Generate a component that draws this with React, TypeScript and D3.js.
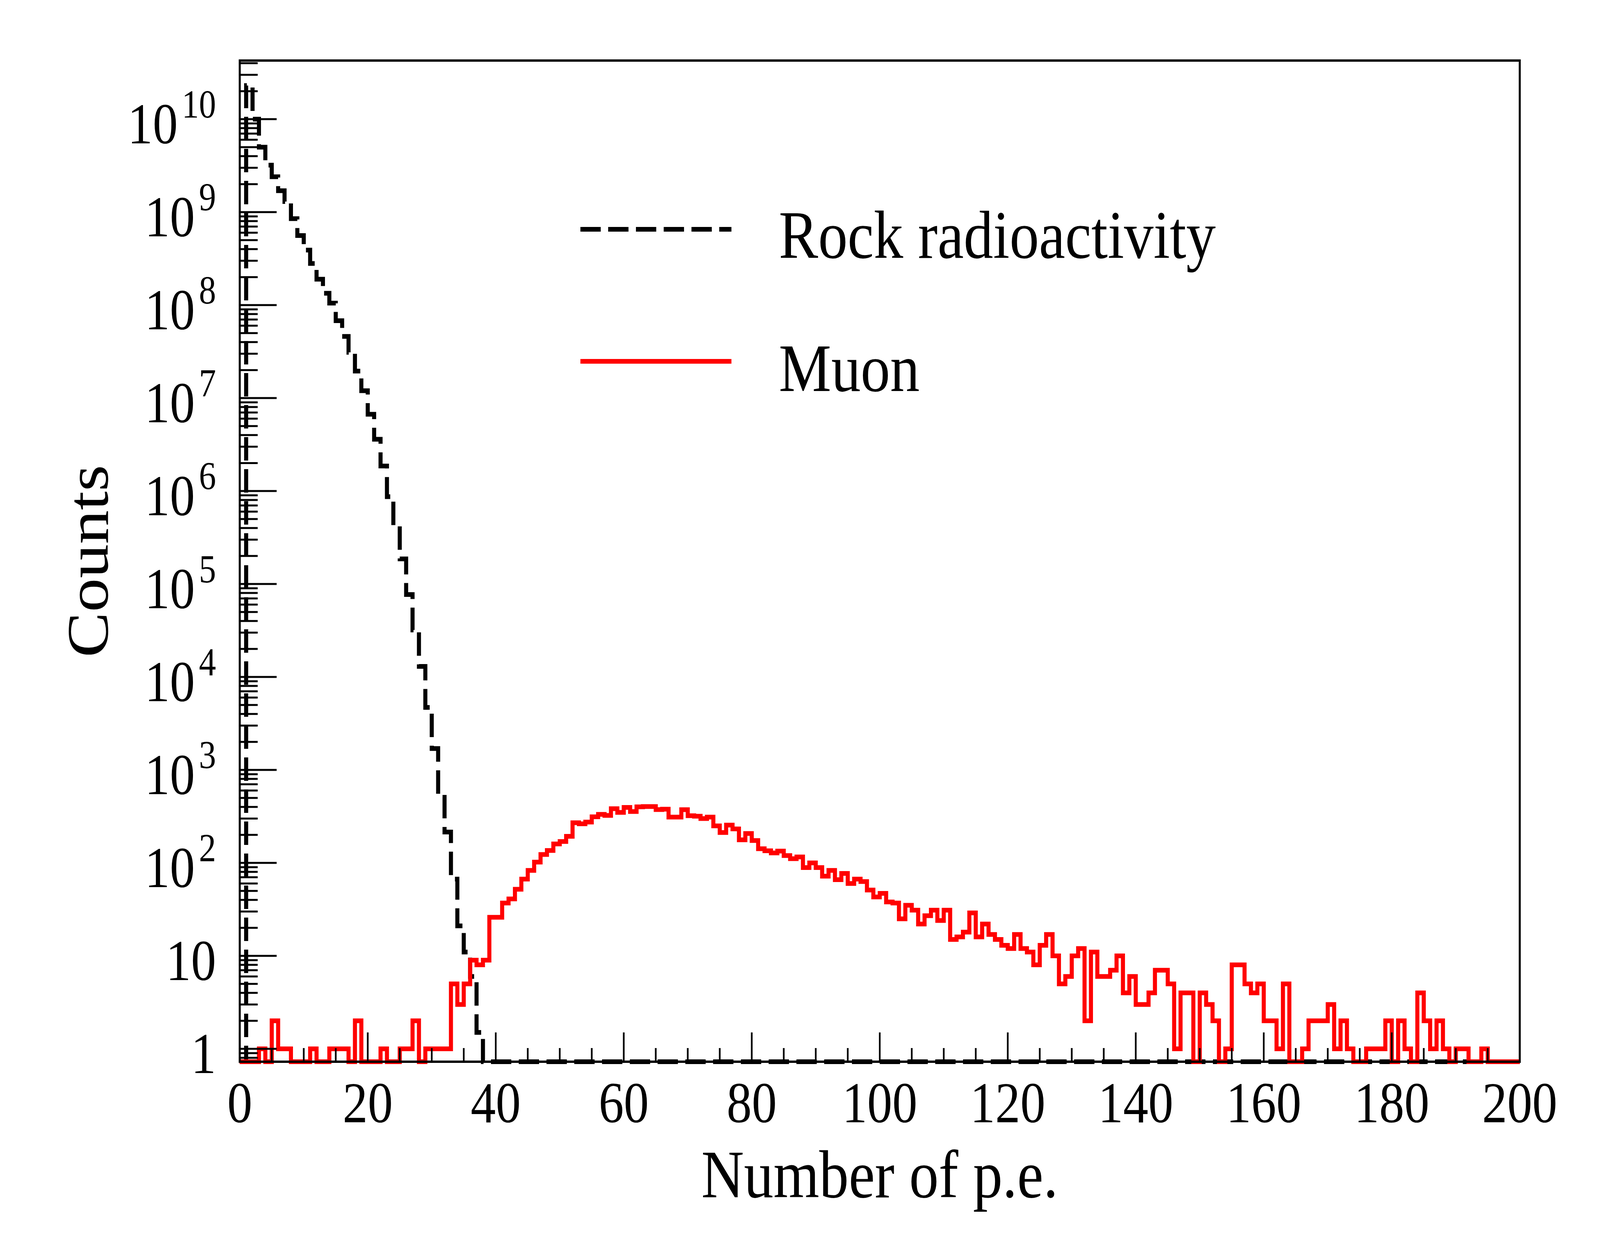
import { useEffect, useRef } from "react";
import * as d3 from "d3";

// Histogram contents, one value per 1 p.e. bin from 0 to 200
const rockCounts = [
  0, 2.3e10, 1.0e10, 5.0e9, 3.2e9, 2.4e9, 1.7e9, 1.3e9, 8.5e8, 5.6e8,
  3.9e8, 2.8e8, 1.9e8, 1.34e8, 1.05e8, 6.8e7, 4.6e7, 3.1e7, 1.95e7, 1.2e7,
  6.7e6, 3.6e6, 1.86e6, 8.7e5, 4.2e5, 1.86e5, 7.7e4, 3.2e4, 1.3e4, 4.7e3,
  1.7e3, 508, 215, 67, 21, 11, 6, 1.5, 0, 0,
  0, 0, 0, 0, 0, 0, 0, 0, 0, 0, 0, 0, 0, 0, 0, 0, 0, 0, 0, 0,
  0, 0, 0, 0, 0, 0, 0, 0, 0, 0, 0, 0, 0, 0, 0, 0, 0, 0, 0, 0,
  0, 0, 0, 0, 0, 0, 0, 0, 0, 0, 0, 0, 0, 0, 0, 0, 0, 0, 0, 0,
  0, 0, 0, 0, 0, 0, 0, 0, 0, 0, 0, 0, 0, 0, 0, 0, 0, 0, 0, 0,
  0, 0, 0, 0, 0, 0, 0, 0, 0, 0, 0, 0, 0, 0, 0, 0, 0, 0, 0, 0,
  0, 0, 0, 0, 0, 0, 0, 0, 0, 0, 0, 0, 0, 0, 0, 0, 0, 0, 0, 0,
  0, 0, 0, 0, 0, 0, 0, 0, 0, 0, 0, 0, 0, 0, 0, 0, 0, 0, 0, 0,
  0, 0, 0, 0, 0, 0, 0, 0, 0, 0, 0, 0, 0, 0, 0, 0, 0, 0, 0, 0,
];

const muonCounts = [
  0, 0, 0, 1, 0, 2, 1, 1, 0, 0, 0, 1, 0, 0, 1, 1, 1, 0, 2, 0,
  0, 0, 1, 0, 0, 1, 1, 2, 0, 1, 1, 1, 1, 5, 3, 5, 9, 8, 9, 26,
  26, 37, 41, 52, 67, 83, 102, 123, 136, 160, 170, 193, 270, 263, 275, 313, 333, 324, 383, 349,
  395, 357, 401, 404, 404, 375, 378, 311, 311, 374, 322, 318, 300, 311, 250, 212, 255, 232, 177, 207,
  174, 142, 135, 128, 134, 120, 111, 116, 89, 100, 89, 72, 83, 66, 77, 60, 67, 63, 51, 43,
  47, 38, 37, 25, 35, 31, 22, 27, 31, 24, 31, 15, 16, 18, 29, 16, 22, 17, 15, 13,
  12, 17, 12, 11, 8, 13, 17, 10, 5, 6, 10, 12, 2, 11, 6, 6, 7, 10, 4, 6,
  3, 3, 4, 7, 7, 5, 1, 4, 4, 0, 4, 3, 2, 0, 1, 8, 8, 5, 4, 5,
  2, 2, 1, 5, 0, 0, 1, 2, 2, 2, 3, 1, 2, 1, 0, 0, 1, 1, 1, 2,
  0, 2, 1, 0, 4, 2, 1, 2, 1, 0, 1, 1, 0, 0, 1, 0, 0, 0, 0, 0,
];

const xMajorTicks = [0, 20, 40, 60, 80, 100, 120, 140, 160, 180, 200];
const yDecades = [0, 1, 2, 3, 4, 5, 6, 7, 8, 9, 10];
const legendLabels = ["Rock radioactivity", "Muon"];
const xTitle = "Number of p.e.";
const yTitle = "Counts";

const FONT = "'Liberation Serif', 'Times New Roman', serif";

export default function App() {
  const svgRef = useRef<SVGSVGElement>(null);

  useEffect(() => {
    if (!svgRef.current) return;
    const svg = d3.select(svgRef.current);
    svg.selectAll("*").remove();

    const width = 4725;
    const height = 3200;
    const frame = { left: 708, right: 4488, top: 155, bottom: 2718 };

    // fill whatever viewport the page gets with the full 4725x3200 drawing
    svg
      .attr("viewBox", `0 0 ${width} ${height}`)
      .attr("preserveAspectRatio", "none");
    svg.append("rect").attr("width", width).attr("height", height).attr("fill", "white");

    const nBins = muonCounts.length;
    const x = d3.scaleLinear().domain([0, nBins]).range([frame.left, frame.right]);
    const yMin = 0.7266;
    const yMax = 4.27e10;
    const y = d3.scaleLog().domain([yMin, yMax]).range([frame.bottom, frame.top]);

    // histogram outlines
    const toPoints = (counts: number[]) => {
      const pts: [number, number][] = counts.map((c, i) => [i, c]);
      pts.push([counts.length, counts[counts.length - 1]]);
      return pts;
    };
    const step = d3
      .line<[number, number]>()
      .x((d) => x(d[0]))
      .y((d) => y(Math.max(d[1], yMin)))
      .curve(d3.curveStepAfter);

    const plot = svg.append("g");

    plot
      .append("path")
      .datum(toPoints(rockCounts))
      .attr("fill", "none")
      .attr("stroke", "#000")
      .attr("stroke-width", 12)
      .attr("stroke-dasharray", "60 22")
      .attr("stroke-linejoin", "miter")
      .attr("d", step);

    plot
      .append("path")
      .datum(toPoints(muonCounts))
      .attr("fill", "none")
      .attr("stroke", "#ff0000")
      .attr("stroke-width", 12)
      .attr("stroke-linejoin", "miter")
      .attr("d", step);

    // frame
    svg
      .append("rect")
      .attr("x", frame.left)
      .attr("y", frame.top)
      .attr("width", frame.right - frame.left)
      .attr("height", frame.bottom - frame.top)
      .attr("fill", "none")
      .attr("stroke", "#000")
      .attr("stroke-width", 6);

    // x ticks
    const xMinor = d3.range(0, nBins + 1, 5).filter((v) => !xMajorTicks.includes(v));
    const axes = svg.append("g").attr("stroke", "#000").attr("stroke-width", 5);
    xMajorTicks.forEach((v) => {
      axes.append("line").attr("x1", x(v)).attr("x2", x(v)).attr("y1", frame.bottom).attr("y2", frame.bottom - 75);
    });
    xMinor.forEach((v) => {
      axes.append("line").attr("x1", x(v)).attr("x2", x(v)).attr("y1", frame.bottom).attr("y2", frame.bottom - 35);
    });

    // y ticks
    yDecades.forEach((d) => {
      const v = Math.pow(10, d);
      axes.append("line").attr("x1", frame.left).attr("x2", frame.left + 109).attr("y1", y(v)).attr("y2", y(v));
    });
    [-1, ...yDecades].forEach((d) => {
      for (let k = 2; k <= 9; k++) {
        const v = k * Math.pow(10, d);
        if (v < yMin || v > yMax) continue;
        axes.append("line").attr("x1", frame.left).attr("x2", frame.left + 53).attr("y1", y(v)).attr("y2", y(v));
      }
    });

    // tick labels
    xMajorTicks.forEach((v) => {
      svg
        .append("text")
        .attr("x", x(v))
        .attr("y", 2873)
        .attr("text-anchor", "middle")
        .attr("font-family", FONT)
        .attr("font-size", 148)
        .text(String(v));
    });

    yDecades.forEach((d) => {
      const t = svg
        .append("text")
        .attr("x", 638)
        .attr("y", y(Math.pow(10, d)) + 62)
        .attr("text-anchor", "end")
        .attr("font-family", FONT)
        .attr("font-size", 148);
      if (d === 0) t.text("1");
      else if (d === 1) t.text("10");
      else {
        t.append("tspan").text("10");
        t.append("tspan").attr("dx", 12).attr("dy", -66).attr("font-size", 101).text(String(d));
      }
    });

    // axis titles
    svg
      .append("text")
      .attr("x", (frame.left + frame.right) / 2)
      .attr("y", 3065)
      .attr("text-anchor", "middle")
      .attr("font-family", FONT)
      .attr("font-size", 174)
      .text(xTitle);

    svg
      .append("text")
      .attr("transform", `translate(318,${(frame.top + frame.bottom) / 2}) rotate(-90)`)
      .attr("text-anchor", "middle")
      .attr("font-family", FONT)
      .attr("font-size", 174)
      .text(yTitle);

    // legend
    const legendRows = [
      { y: 587, baseline: 660, stroke: "#000", dash: "60 22" },
      { y: 925, baseline: 1001, stroke: "#ff0000", dash: null },
    ];
    legendLabels.forEach((label, i) => {
      const row = legendRows[i];
      const ln = svg
        .append("line")
        .attr("x1", 1714)
        .attr("x2", 2160)
        .attr("y1", row.y)
        .attr("y2", row.y)
        .attr("stroke", row.stroke)
        .attr("stroke-width", 12);
      if (row.dash) ln.attr("stroke-dasharray", row.dash);
      svg
        .append("text")
        .attr("x", 2300)
        .attr("y", row.baseline)
        .attr("font-family", FONT)
        .attr("font-size", 174)
        .text(label);
    });
  }, []);

  return (
    <svg
      ref={svgRef}
      style={{ position: "absolute", left: 0, top: 0, display: "block", width: "100vw", height: "100vh" }}
    />
  );
}
